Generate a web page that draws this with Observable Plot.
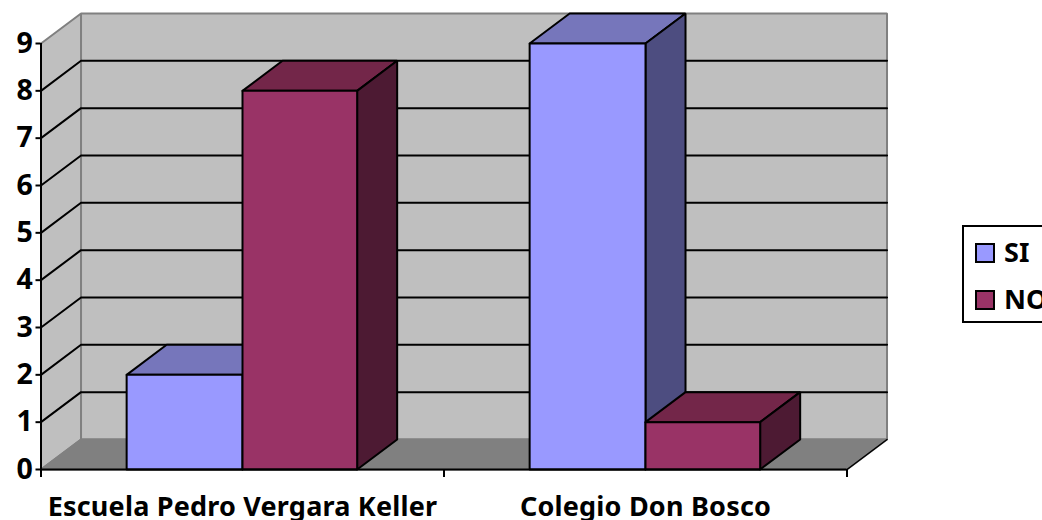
<!DOCTYPE html>
<html><head><meta charset="utf-8">
<script src="https://cdn.jsdelivr.net/npm/d3@7"></script>
<script src="https://cdn.jsdelivr.net/npm/@observablehq/plot@0.6"></script>
<style>
html,body{margin:0;padding:0;background:#fff;overflow:hidden}
#wrap{position:relative;width:1042px;height:520px;overflow:hidden;font-family:"Noto Sans",sans-serif}
#legend{position:absolute;left:962px;top:225px;width:120px;height:94px;border:2px solid #000;background:#fff;box-sizing:content-box}
.sw{position:absolute;left:11px;width:16px;height:16px;border:2px solid #000}
.lb{position:absolute;left:40px;font-weight:700;font-size:27px;line-height:30px;color:#000}
</style></head><body><div id="wrap"></div>
<script>
const categories = ["Escuela Pedro Vergara Keller", "Colegio Don Bosco"];
const seriesNames = ["SI", "NO"];
const siValues = [2, 9];
const noValues = [8, 1];
const yTicks = [0,1,2,3,4,5,6,7,8,9];
const palette = {
  SI: {front:"#9999FF", top:"#7676BB", side:"#4D4D80"},
  NO: {front:"#993366", top:"#732649", side:"#4D1A33"}
};
const depthX = 0.0993, depthY = 0.634;
const barStart = 0.2125, barMid = 0.5, barEnd = 0.7845;
const yMax = 9;

const poly = (pts, fill, stroke, sw=2) =>
  Plot.line([...pts, pts[0]], {x:d=>d[0], y:d=>d[1], fill, stroke, strokeWidth:sw, curve:"linear", strokeLinejoin:"miter"});

const marks = [];
marks.push(poly([[depthX,depthY],[2+depthX,depthY],[2+depthX,yMax+depthY],[depthX,yMax+depthY]], "#BFBFBF", "#808080"));
marks.push(poly([[0,0],[depthX,depthY],[depthX,yMax+depthY],[0,yMax]], "#BFBFBF", "#808080"));
marks.push(poly([[0,0],[2,0],[2+depthX,depthY],[depthX,depthY]], "#808080", "#808080"));
marks.push(Plot.line([[2,0],[2+depthX,depthY]], {x:d=>d[0], y:d=>d[1], stroke:"#000", strokeWidth:1.5}));
for (const v of yTicks.slice(1,-1)) {
  marks.push(Plot.line([[0,v],[depthX,v+depthY],[2+depthX,v+depthY]], {x:d=>d[0], y:d=>d[1], stroke:"#000", strokeWidth:2}));
}
categories.forEach((c,i) => {
  [[siValues[i], i+barStart, i+barMid, palette.SI], [noValues[i], i+barMid, i+barEnd, palette.NO]].forEach(([v,x0,x1,col]) => {
    marks.push(poly([[x0,v],[x0+depthX,v+depthY],[x1+depthX,v+depthY],[x1,v]], col.top, "#000"));
    marks.push(poly([[x1,0],[x1+depthX,depthY],[x1+depthX,v+depthY],[x1,v]], col.side, "#000"));
    marks.push(poly([[x0,0],[x1,0],[x1,v],[x0,v]], col.front, "#000"));
  });
});
marks.push(Plot.ruleY([0], {stroke:"#000", strokeWidth:2}));
marks.push(Plot.ruleX([0], {y1:0, y2:yMax, stroke:"#000", strokeWidth:2}));
marks.push(Plot.axisY({ticks:yTicks, anchor:"left", tickSize:5, tickPadding:3, label:null, stroke:"#000", strokeWidth:2,
  fontSize:28.5, fontWeight:700, fill:"#000", tickFormat:d=>String(d)}));
marks.push(Plot.axisX({ticks:[0,1,2], anchor:"bottom", tickSize:8, label:null, stroke:"#000", strokeWidth:2, tickFormat:()=>""}));
marks.push(Plot.axisX({ticks:[0.5,1.5], anchor:"bottom", tickSize:0, tickPadding:27, label:null, fontSize:27, fontWeight:700, fill:"#000",
  tickFormat:d=>categories[Math.floor(d)]}));

const chart = Plot.plot({
  width:1042, height:520,
  marginLeft:40.5, marginRight:195.5, marginTop:43, marginBottom:51,
  style:{background:"#fff", fontFamily:"'Noto Sans',sans-serif", overflow:"hidden", letterSpacing:"0.2px"},
  x:{type:"linear", domain:[0,2]},
  y:{type:"linear", domain:[0,9]},
  marks
});
const wrap = document.getElementById("wrap");
wrap.append(chart);
const lg = document.createElement("div");
lg.id = "legend";
seriesNames.forEach((n,i)=>{
  const s=document.createElement("div"); s.className="sw"; s.style.top=(16+47*i)+"px"; s.style.background=palette[n].front;
  const t=document.createElement("div"); t.className="lb"; t.style.top=(10+47*i)+"px"; t.textContent=n;
  lg.append(s,t);
});
wrap.append(lg);
</script></body></html>
